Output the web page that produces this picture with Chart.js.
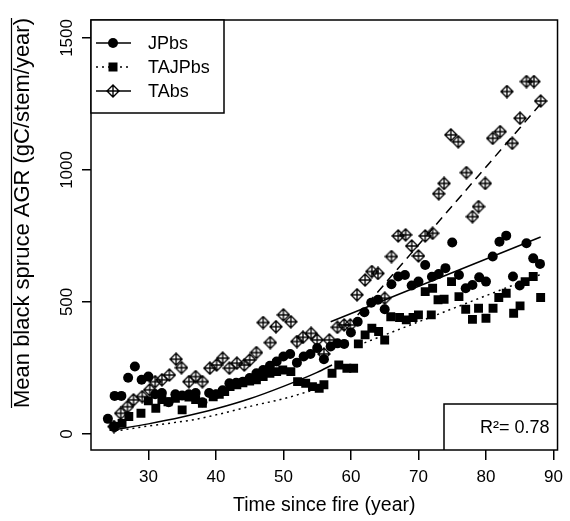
<!DOCTYPE html>
<html><head><meta charset="utf-8">
<script src="https://cdn.jsdelivr.net/npm/chart.js@4.4.1/dist/chart.umd.min.js"></script>
<style>html,body{margin:0;padding:0;background:#fff}#wrap{width:570px;height:521px;position:relative}</style>
</head><body><div id="wrap"><canvas id="c"></canvas></div>
<script>
const xTicks = [30, 40, 50, 60, 70, 80, 90];
const yTicks = [0, 500, 1000, 1500];
const seriesNames = ['JPbs', 'TAJPbs', 'TAbs'];

const jpbsYears = [24,25,26,27,28,29,30,31,32,33,34,35,36,37,38,39,40,41,42,43,44,45,46,47,48,49,50,51,52,53,54,55,56,57,58,59,60,61,62,63,64,65,66,67,68,69,70,71,72,73,74,75,76,77,78,79,80,81,82,83,84,85,86,87,88];
const jpbsValues = [57,144,144,213,255,205,217,150,155,120,150,145,150,155,120,155,150,165,192,194,198,212,230,242,258,274,293,303,270,293,303,325,283,331,343,341,384,425,461,497,508,472,567,596,602,562,577,640,595,606,628,725,602,552,564,593,577,672,728,751,596,562,722,665,644];

const tajYears = [24.9,26.1,27.1,28.9,30,31.1,32,32.9,34,35,36,37,38,39.6,40.5,41.3,42.1,43.1,44,45,46,47,48,49,49.9,51.1,52.1,53.3,54.3,55.3,56,57.2,58.2,59.4,60.4,61.1,62.1,63.1,64.1,65,65.9,67.2,68.2,69.2,70,71,71.9,72.1,72.9,73.8,74.9,76,77,78,78.9,80,81.05,81.9,83,84.1,85.05,85.8,87,88.1];
const tajValues = [28,40,66,78,125,97,130,122,135,91,140,130,116,141,150,160,179,186,194,200,205,217,230,236,242,236,198,192,179,173,186,230,261,249,249,341,375,400,388,356,444,441,432,441,451,539,451,552,508,510,577,520,472,434,476,438,476,517,533,457,485,577,596,517];

const tabsYears = [24.9,25.9,26.9,27.8,29.1,30.2,31,32,33.1,34.1,34.9,36,37,38,39.1,40.1,41,42,43.1,44.2,45,46,47,48.05,48.9,50,51.1,52,52.9,54.1,55,56,56.8,58,59,59.9,60.9,62.1,63.1,64,65,66,67,68.1,69,70,71,72.1,73,73.8,74.8,75.9,77.1,78,78.9,79.9,81,82.1,83.1,83.9,85.05,86,87.1,88.1];
const tabsValues = [28,78,103,129,141,167,198,205,223,283,251,198,217,198,249,261,287,249,268,261,280,308,422,346,406,451,425,350,366,381,356,303,356,404,413,413,527,583,615,608,514,672,750,754,712,674,750,760,910,949,1133,1107,990,823,861,949,1120,1145,1297,1101,1196,1335,1335,1261];

// fitted curves
const fitJpbs1Years = [24.8,30,35,40,45,50,55,57.2];
const fitJpbs1Values = [15,38,64,95,133,180,233,261];
const fitJpbs2Years = [57,88.1];
const fitJpbs2Values = [425,746];
const fitTaj1Years = [25,30,36.5,40,46,50,53.6,57];
const fitTaj1Values = [10,30,53,72,110,133,160,185];
const fitTaj2Years = [62,88.1];
const fitTaj2Values = [345,604];
const fitTabsYears = [61,88.5];
const fitTabsValues = [450,1262];

const r2Label = 'R\u00B2= 0.78';
const xTitle = 'Time since fire (year)';
const yTitle = 'Mean black spruce AGR (gC/stem/year)';

const FF = '"Liberation Sans", Arial, sans-serif';
const pts = (xs, ys) => xs.map((x, i) => ({x: x, y: ys[i]}));

const diamondImg = (() => {
  const c = document.createElement('canvas'); c.width = 14; c.height = 14;
  const g = c.getContext('2d'); g.strokeStyle = '#000'; g.lineWidth = 1.4;
  g.beginPath(); g.moveTo(7,1); g.lineTo(13,7); g.lineTo(7,13); g.lineTo(1,7); g.closePath();
  g.moveTo(7,1); g.lineTo(7,13); g.moveTo(1,7); g.lineTo(13,7); g.stroke();
  return c;
})();

const lineDs = (xs, ys, dash) => ({
  type: 'line', data: pts(xs, ys), borderColor: '#000', borderWidth: 1.5,
  borderDash: dash, pointRadius: 0, fill: false, tension: 0.4, cubicInterpolationMode: 'monotone'
});

const decor = {
  id: 'decor',
  afterDraw(chart) {
    const ctx = chart.ctx, ca = chart.chartArea;
    ctx.save();
    ctx.strokeStyle = '#000'; ctx.fillStyle = '#000'; ctx.lineWidth = 1.5;
    ctx.strokeRect(ca.left, ca.top, ca.right - ca.left, ca.bottom - ca.top);
    // legend
    const lx = ca.left, ly = ca.top, lw = 133, lh = 93;
    ctx.fillStyle = '#fff'; ctx.fillRect(lx, ly, lw, lh);
    ctx.strokeRect(lx, ly, lw, lh);
    const rows = [23, 47, 71];
    const dashes = [[], [2, 4], []];
    rows.forEach((dy, i) => {
      const y = ly + dy;
      ctx.setLineDash(dashes[i]); ctx.lineWidth = 1.5;
      ctx.beginPath(); ctx.moveTo(lx + 5, y); ctx.lineTo(lx + 40, y); ctx.stroke();
      ctx.setLineDash([]);
      ctx.fillStyle = '#000';
      const mx = lx + 22;
      if (i === 0) { ctx.beginPath(); ctx.arc(mx, y, 5, 0, Math.PI * 2); ctx.fill(); }
      else if (i === 1) { ctx.fillRect(mx - 4.5, y - 4.5, 9, 9); }
      else { ctx.fillStyle = '#fff'; ctx.fillRect(mx - 6, y - 6, 12, 12); ctx.drawImage(diamondImg, mx - 7, y - 7); }
      ctx.fillStyle = '#000';
      ctx.font = '18px ' + FF; ctx.textAlign = 'left'; ctx.textBaseline = 'middle';
      ctx.fillText(seriesNames[i], lx + 57, y + 1);
    });
    // R2 box
    const bx = 444, by = 404;
    ctx.lineWidth = 1.5;
    ctx.beginPath(); ctx.moveTo(bx, ca.bottom); ctx.lineTo(bx, by); ctx.lineTo(ca.right, by); ctx.stroke();
    ctx.font = '18px ' + FF; ctx.textAlign = 'right'; ctx.textBaseline = 'middle';
    ctx.fillText(r2Label, ca.right - 8, by + 24);
    // y title with overline
    const yc = 213;
    ctx.translate(29, yc); ctx.rotate(-Math.PI / 2);
    ctx.font = '22px ' + FF; ctx.textAlign = 'center'; ctx.textBaseline = 'alphabetic';
    ctx.fillText(yTitle, 0, 0);
    const w = ctx.measureText(yTitle).width;
    ctx.lineWidth = 1.2;
    ctx.beginPath(); ctx.moveTo(-w / 2, -17.5); ctx.lineTo(w / 2, -17.5); ctx.stroke();
    ctx.restore();
  }
};

new Chart(document.getElementById('c'), {
  type: 'scatter',
  data: {
    datasets: [
      lineDs(fitJpbs1Years, fitJpbs1Values, []),
      lineDs(fitJpbs2Years, fitJpbs2Values, []),
      lineDs(fitTaj1Years, fitTaj1Values, [2, 4]),
      lineDs(fitTaj2Years, fitTaj2Values, [2, 4]),
      lineDs(fitTabsYears, fitTabsValues, [9, 6]),
      {label: 'JPbs', data: pts(jpbsYears, jpbsValues), pointStyle: 'circle', pointRadius: 5, backgroundColor: '#000', borderColor: '#000', borderWidth: 0},
      {label: 'TAJPbs', data: pts(tajYears, tajValues), pointStyle: 'rect', pointRadius: 6.3, backgroundColor: '#000', borderColor: '#000', borderWidth: 0},
      {label: 'TAbs', data: pts(tabsYears, tabsValues), pointStyle: diamondImg, pointRadius: 7}
    ]
  },
  options: {
    responsive: true, maintainAspectRatio: false, animation: false,
    layout: {padding: {top: 20, right: 7, left: 0, bottom: 0}},
    plugins: {legend: {display: false}, tooltip: {enabled: false}},
    scales: {
      x: {
        type: 'linear', min: 21.5, max: 90.6,
        afterBuildTicks: s => { s.ticks = xTicks.map(v => ({value: v})); },
        afterFit: s => { s.height = 71; },
        grid: {drawOnChartArea: false, drawTicks: true, tickLength: 10, color: '#000', lineWidth: 1.5},
        border: {display: false},
        ticks: {color: '#000', font: {family: FF, size: 17}, padding: 7, maxRotation: 0, callback: v => String(v)},
        title: {display: true, text: xTitle, color: '#000', font: {family: FF, size: 19.5}, padding: {top: 0, bottom: 4}}
      },
      y: {
        type: 'linear', min: -61, max: 1568,
        afterBuildTicks: s => { s.ticks = yTicks.map(v => ({value: v})); },
        afterFit: s => { s.width = 91; },
        grid: {drawOnChartArea: false, drawTicks: true, tickLength: 9, color: '#000', lineWidth: 1.5},
        border: {display: false},
        ticks: {color: '#000', font: {family: FF, size: 17}, minRotation: 90, maxRotation: 90, crossAlign: 'center', padding: -4, callback: v => String(v)}
      }
    }
  },
  plugins: [decor]
});
</script>
</body></html>
